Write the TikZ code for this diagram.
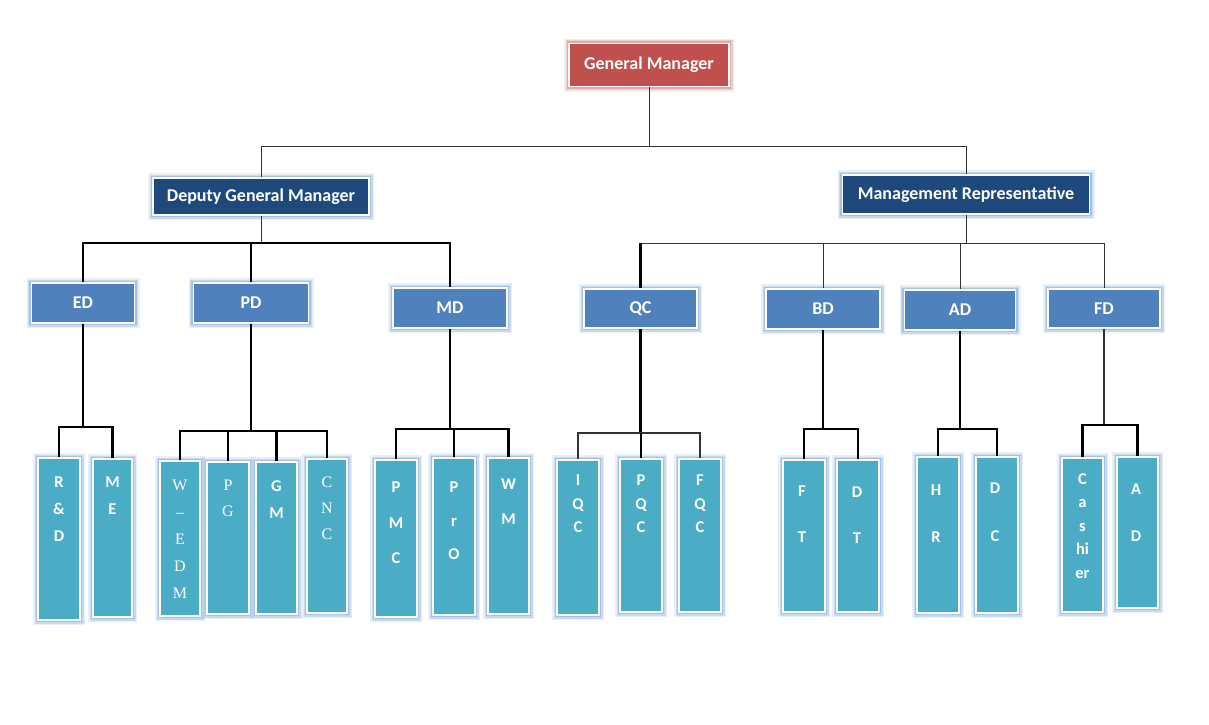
\documentclass[tikz,border=0pt]{standalone}
\usepackage{fontspec}
\setmainfont{Carlito}
\newfontfamily\thinserif{Liberation Serif}
\definecolor{gmred}{HTML}{C0504D}
\definecolor{navy}{HTML}{1F497D}
\definecolor{midblue}{HTML}{4F81BD}
\definecolor{tealbox}{HTML}{4BACC6}
\definecolor{glowb}{HTML}{8DB3E2}
\definecolor{glowr}{HTML}{D99694}
\definecolor{lngray}{HTML}{333333}
\begin{document}
\begin{tikzpicture}[x=1pt,y=-1pt,
  basebox/.style={draw=white, line width=1.6pt, inner sep=0pt, text=white,
    font=\bfseries\fontsize{18}{21}\selectfont},
  bglow/.style={basebox,
    preaction={draw=glowb, line width=10pt, draw opacity=0.2},
    preaction={draw=glowb, line width=7pt, draw opacity=0.35},
    preaction={draw=glowb, line width=4.5pt, draw opacity=0.6}},
  rglow/.style={basebox,
    preaction={draw=glowr, line width=10pt, draw opacity=0.2},
    preaction={draw=glowr, line width=7pt, draw opacity=0.35},
    preaction={draw=glowr, line width=4.5pt, draw opacity=0.6}},
  topbox/.style={rglow, fill=gmred},
  navybox/.style={bglow, fill=navy},
  midbox/.style={bglow, fill=midblue},
  tallbox/.style={bglow, fill=tealbox},
  talltxt/.style={anchor=north, inner sep=0pt, align=center, text=white,
    font=\bfseries\fontsize{16.5}{#1}\selectfont},
  tallser/.style={anchor=north, inner sep=0pt, align=center, text=white,
    font=\thinserif\fontsize{16}{#1}\selectfont},
  thinln/.style={draw=lngray, line width=1pt},
  thickln/.style={draw=black, line width=2.3pt},
]
\useasboundingbox[fill=white] (0,0) rectangle (1209,724);

% ---------- top level
\node[topbox, minimum width=160pt, minimum height=43pt] (gm) at (649,65) {General Manager};
\node[navybox, minimum width=216pt, minimum height=37pt] (dgm) at (261,196.5) {Deputy General Manager};
\node[navybox, minimum width=247pt, minimum height=39pt] (mr) at (966,194.5) {Management Representative};

% ---------- second level
\node[midbox, minimum width=103pt, minimum height=40pt] (ed) at (83,303) {ED};
\node[midbox, minimum width=115pt, minimum height=40pt] (pd) at (251,303) {PD};
\node[midbox, minimum width=114pt, minimum height=40pt] (md) at (450,308) {MD};
\node[midbox, minimum width=113pt, minimum height=39pt] (qc) at (640.5,308.5) {QC};
\node[midbox, minimum width=114pt, minimum height=40pt] (bd) at (823,309) {BD};
\node[midbox, minimum width=111pt, minimum height=40pt] (ad) at (960,310) {AD};
\node[midbox, minimum width=112pt, minimum height=39pt] (fd) at (1104,308.5) {FD};

% ---------- third level boxes
\node[tallbox, minimum width=42pt, minimum height=162pt] (rd) at (59,539) {};
\node[tallbox, minimum width=39pt, minimum height=158pt] (me) at (112.5,538) {};
\node[tallbox, minimum width=40pt, minimum height=155pt] (wedm) at (180,538.5) {};
\node[tallbox, minimum width=42pt, minimum height=152pt] (pg) at (228,538) {};
\node[tallbox, minimum width=41pt, minimum height=152pt] (gmm) at (276.5,538) {};
\node[tallbox, minimum width=40pt, minimum height=154pt] (cnc) at (327,536) {};
\node[tallbox, minimum width=42pt, minimum height=157pt] (pmc) at (396,538.5) {};
\node[tallbox, minimum width=42pt, minimum height=157pt] (pro) at (454,536.5) {};
\node[tallbox, minimum width=41pt, minimum height=156pt] (wm) at (508.5,536) {};
\node[tallbox, minimum width=42pt, minimum height=155pt] (iqc) at (578,537.5) {};
\node[tallbox, minimum width=42pt, minimum height=153pt] (pqc) at (641,535.5) {};
\node[tallbox, minimum width=42pt, minimum height=153pt] (fqc) at (700,535.5) {};
\node[tallbox, minimum width=42pt, minimum height=152pt] (ft) at (804,536) {};
\node[tallbox, minimum width=42pt, minimum height=152pt] (dt) at (858,536) {};
\node[tallbox, minimum width=42pt, minimum height=156pt] (hr) at (938,535) {};
\node[tallbox, minimum width=42pt, minimum height=156pt] (dc) at (997,535) {};
\node[tallbox, minimum width=41pt, minimum height=154pt] (cash) at (1082.5,535) {};
\node[tallbox, minimum width=41pt, minimum height=151pt] (adm) at (1137.5,532.5) {};

% ---------- third level texts
\node[talltxt=27pt] at (59,477) {R\\\&\\D};
\node[talltxt=27pt] at (112.5,477) {M\\E};
\node[tallser=27pt] at (180,480) {W\\\textendash\\E\\D\\M};
\node[tallser=26pt] at (228,480) {P\\G};
\node[talltxt=27pt] at (276.5,480) {G\\M};
\node[tallser=26pt] at (327,477) {C\\N\\C};
\node[talltxt=35.5pt] at (396,482) {P\\M\\C};
\node[talltxt=33.5pt] at (454,482) {P\\r\\O};
\node[talltxt=35pt] at (508.5,479) {W\\M};
\node[talltxt=23.5pt] at (578,475) {I\\Q\\C};
\node[talltxt=23.5pt] at (641,475) {P\\Q\\C};
\node[talltxt=23.5pt] at (700,475) {F\\Q\\C};
\node[talltxt=46pt] at (802,486) {F\\T};
\node[talltxt=46pt] at (857,487) {D\\T};
\node[talltxt=47pt] at (936,485) {H\\R};
\node[talltxt=48pt] at (995,483) {D\\C};
\node[talltxt=23.5pt] at (1082.5,473) {C\\a\\s\\hi\\er};
\node[talltxt=47pt] at (1136,484) {A\\D};

% ---------- bar levels
\coordinate (y0) at (0,146);
\coordinate (y1) at (0,243);
\coordinate (yED) at (0,427);
\coordinate (yPD) at (0,431);
\coordinate (yMD) at (0,429);
\coordinate (yQC) at (0,433);
\coordinate (yBD) at (0,429);
\coordinate (yAD) at (0,429);
\coordinate (yFD) at (0,425);

% ---------- connectors top
\draw[thinln] (gm.south) -- (gm.south|-y0);
\draw[thinln] (dgm.north) -- (dgm.north|-y0) -- (mr.north|-y0) -- (mr.north);

% DGM branch
\draw[thinln] (dgm.south) -- (dgm.south|-y1);
\draw[thickln] (ed.north) -- (ed.north|-y1) -- (md.north|-y1) -- (md.north);
\draw[thickln] (pd.north) -- (pd.north|-y1);

% MR branch
\draw[thinln] (mr.south) -- (mr.south|-y1);
\draw[thinln] (qc.north) -- (qc.north|-y1) -- (fd.north|-y1) -- (fd.north);
\draw[thickln] (qc.north) -- (qc.north|-y1);
\draw[thinln] (bd.north) -- (bd.north|-y1);
\draw[thinln] (ad.north) -- (ad.north|-y1);

% ED
\draw[thickln] (ed.south) -- (ed.south|-yED);
\draw[thickln] (rd.north) -- (rd.north|-yED) -- (me.north|-yED) -- (me.north);
% PD
\draw[thickln] (pd.south) -- (pd.south|-yPD);
\draw[thickln] (wedm.north) -- (wedm.north|-yPD) -- (cnc.north|-yPD) -- (cnc.north);
\draw[thickln] (pg.north) -- (pg.north|-yPD);
\draw[thickln] (gmm.north) -- (gmm.north|-yPD);
% MD
\draw[thickln] (md.south) -- (md.south|-yMD);
\draw[thickln] (pmc.north) -- (pmc.north|-yMD) -- (wm.north|-yMD) -- (wm.north);
\draw[thickln] (pro.north) -- (pro.north|-yMD);
% QC
\draw[thickln] (qc.south) -- (qc.south|-yQC);
\draw[thinln, line width=1.6pt] (iqc.north) -- (iqc.north|-yQC) -- (fqc.north|-yQC) -- (fqc.north);
\draw[thickln] (pqc.north) -- (pqc.north|-yQC);
% BD
\draw[thickln] (bd.south) -- (bd.south|-yBD);
\draw[thickln] (ft.north) -- (ft.north|-yBD) -- (dt.north|-yBD) -- (dt.north);
% AD
\draw[thickln] (ad.south) -- (ad.south|-yAD);
\draw[thickln] (hr.north) -- (hr.north|-yAD) -- (dc.north|-yAD) -- (dc.north);
% FD
\draw[thinln, line width=1.4pt] (fd.south) -- (fd.south|-yFD);
\draw[thickln] (cash.north) -- (cash.north|-yFD) -- (adm.north|-yFD) -- (adm.north);
\end{tikzpicture}
\end{document}
